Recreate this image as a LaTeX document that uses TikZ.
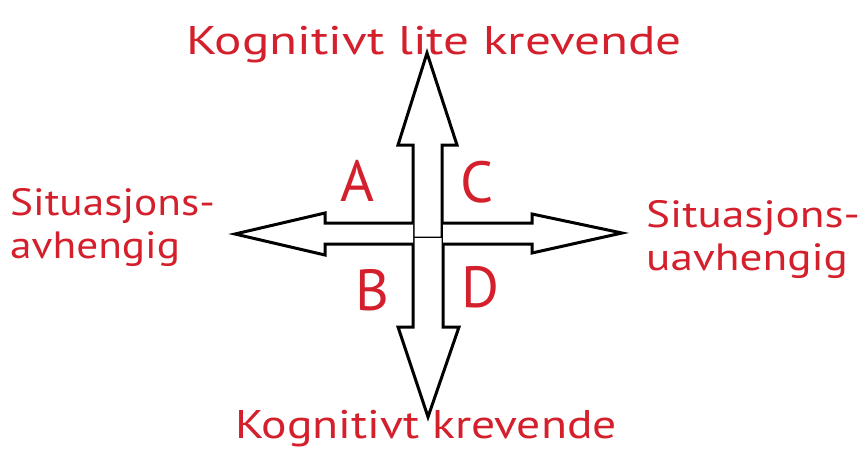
\documentclass[tikz,border=0pt]{standalone}
\usepackage{fontspec}
\setmainfont{PT Sans}
\usepackage{tikz}
\usetikzlibrary{calc}
\definecolor{penRed}{HTML}{D4202C}
\tikzset{
  x=1pt, y=-1pt,
  blk/.style ={draw=black, line width=3pt, line join=miter, fill=white},
  pen/.style ={text=penRed, inner sep=0pt},
  axis/.style ={pen, anchor=base},
  side/.style ={pen, align=left, anchor=north west},
  quad/.style ={pen, font=\fontsize{58}{58}\selectfont},
}
\newcommand{\penfont}[3]{\fontsize{#1}{#2}\selectfont\addfontfeature{FakeStretch=#3}}
\begin{document}
\begin{tikzpicture}
  \useasboundingbox (0,0) rectangle (867,452);

  % vertical arrow (up and down)
  \draw[blk] (413,238) -- (413,145) -- (398,145) -- (427,53) -- (457,145) -- (442,145) -- (442,238) -- cycle;
  \draw[blk] (413,238) -- (413,327) -- (398,327) -- (428,417) -- (459,327) -- (443,327) -- (443,238);

  % horizontal arrow (left and right)
  \draw[blk] (413,223) -- (325,223) -- (325,213) -- (235,234) -- (325,255) -- (325,244) -- (413,244);
  \draw[blk] (443,223) -- (532,223) -- (532,214) -- (622,233) -- (532,253) -- (532,244) -- (443,244);

  % axis labels
  \node[axis, font=\penfont{40}{44}{1.28}] (klite) at (434,55)  {Kognitivt lite krevende};
  \node[axis, font=\penfont{40}{44}{1.19}] (kkrev) at (426,438) {Kognitivt krevende};
  \node[side, font=\penfont{38}{43}{1.14}] (savh)  at (10,188)  {Situasjons-\\avhengig};
  \node[side, font=\penfont{38}{43}{1.19}] (suavh) at (646,200) {Situasjons-\\uavhengig};

  % quadrants
  \node[quad] (qA) at (357,181) {A};
  \node[quad] (qC) at (477,182) {C};
  \node[quad] (qB) at (372,290) {B};
  \node[quad] (qD) at (480,287) {D};
\end{tikzpicture}
\end{document}
